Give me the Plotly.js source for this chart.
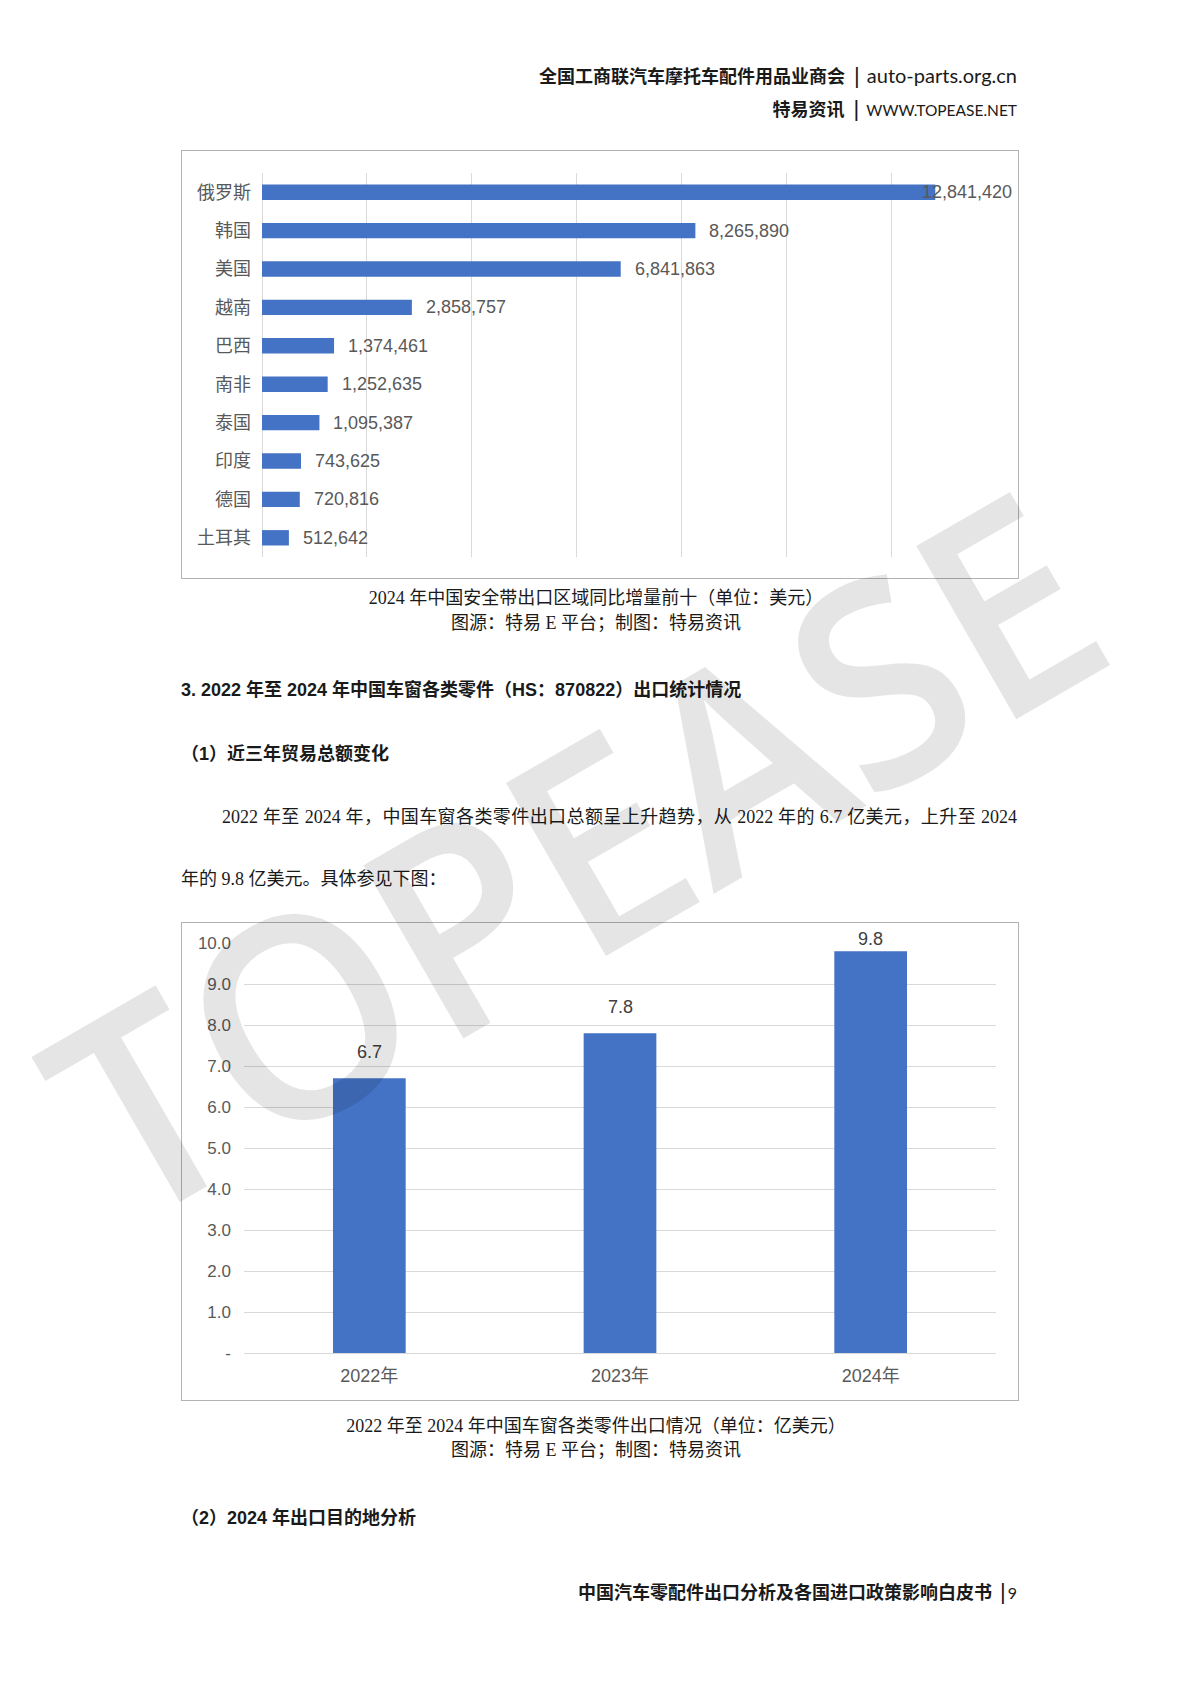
<!DOCTYPE html>
<html><head><meta charset="utf-8">
<script src="https://cdn.plot.ly/plotly-3.0.1.min.js"></script>
<style>
html,body{margin:0;padding:0;background:#fff;}
body{width:1200px;height:1698px;position:relative;overflow:hidden;}
.t{position:absolute;white-space:nowrap;line-height:24px;color:#1a1a1a;}
.serif{font-family:"Liberation Serif","Noto Sans CJK SC",serif;font-size:18px;}
.head{font-family:"Liberation Sans Narrow","Liberation Sans","Noto Sans CJK SC",sans-serif;font-weight:700;font-size:18px;}
.chartbox{position:absolute;left:181px;width:838px;box-sizing:border-box;border:1.5px solid #b3b3b3;background:#fff;}
.sep{font-family:"Liberation Sans",sans-serif;font-size:22px;margin:0 7px 0 9px;color:#1a1a1a;}
#wm{position:absolute;left:0;top:0;pointer-events:none;}
</style></head><body>

<div class="t" style="right:183px;top:63px;font-size:18px;">
  <span style="font-family:'Noto Sans CJK SC',sans-serif;font-weight:700;">全国工商联汽车摩托车配件用品业商会</span><span class="sep">|</span><span style="font-family:Lato,'Liberation Sans',sans-serif;font-size:20px;">auto-parts.org.cn</span>
</div>
<div class="t" style="right:183px;top:96px;font-size:18px;">
  <span style="font-family:'Noto Sans CJK SC',sans-serif;font-weight:700;">特易资讯</span><span class="sep">|</span><span style="font-family:Lato,'Liberation Sans',sans-serif;font-size:15.5px;">WWW.TOPEASE.NET</span>
</div>

<div class="chartbox" style="top:150px;height:429px;"><div id="c1" style="width:835px;height:426px;"></div></div>

<div class="t serif" style="left:181px;width:830px;text-align:center;top:586px;">2024 年中国安全带出口区域同比增量前十（单位：美元）</div>
<div class="t serif" style="left:181px;width:830px;text-align:center;top:611px;">图源：特易 E 平台；制图：特易资讯</div>

<div class="t head" style="left:181px;top:678px;">3. 2022 年至 2024 年中国车窗各类零件（HS：870822）出口统计情况</div>
<div class="t head" style="left:181px;top:742px;">（1）近三年贸易总额变化</div>

<div class="t serif" style="left:222px;width:795px;top:805px;white-space:normal;text-align:justify;text-align-last:justify;">2022 年至 2024 年，中国车窗各类零件出口总额呈上升趋势，从 2022 年的 6.7 亿美元，上升至 2024</div>
<div class="t serif" style="left:181px;top:867px;">年的 9.8 亿美元。具体参见下图：</div>

<div class="chartbox" style="top:922px;height:479px;"><div id="c2" style="width:835px;height:476px;"></div></div>

<div class="t serif" style="left:181px;width:830px;text-align:center;top:1414px;">2022 年至 2024 年中国车窗各类零件出口情况（单位：亿美元）</div>
<div class="t serif" style="left:181px;width:830px;text-align:center;top:1438px;">图源：特易 E 平台；制图：特易资讯</div>

<div class="t head" style="left:181px;top:1506px;">（2）2024 年出口目的地分析</div>

<div class="t" style="right:183px;top:1579px;font-size:18px;">
  <span style="font-family:'Noto Sans CJK SC',sans-serif;font-weight:700;">中国汽车零配件出口分析及各国进口政策影响白皮书</span><span class="sep" style="margin:0 2px 0 8px;">|</span><span style="font-family:Lato,'Liberation Sans',sans-serif;font-size:16px;">9</span>
</div>

<svg id="wm" width="1200" height="1698" xmlns="http://www.w3.org/2000/svg">
  <text x="128" y="1232" transform="rotate(-30 128 1232)" textLength="1150" lengthAdjust="spacingAndGlyphs"
    font-family="Open Sans, Liberation Sans, sans-serif" font-weight="600" font-size="280" fill="rgba(0,0,0,0.1)">TOPEASE</text>
</svg>

<script>
// ---- Chart 1 data: 2024 safety-belt export YoY increase, top 10 regions (USD)
const regions = ['俄罗斯','韩国','美国','越南','巴西','南非','泰国','印度','德国','土耳其'];
const increaseUSD = [12841420, 8265890, 6841863, 2858757, 1374461, 1252635, 1095387, 743625, 720816, 512642];

// ---- Chart 2 data: window parts export 2022-2024 (100M USD)
const years = ['2022年','2023年','2024年'];
const exportValue = [6.7, 7.8, 9.8];
const yTickVals = [0,1,2,3,4,5,6,7,8,9,10];
const yTickText = ['-','1.0','2.0','3.0','4.0','5.0','6.0','7.0','8.0','9.0','10.0'];

const BLUE = '#4472C4';
const GRID = '#d9d9d9';
const LABEL = '#595959';
const FONT = 'Liberation Sans, Noto Sans CJK SC, sans-serif';

// Chart 1
const x1Max = 14000000;
const ann1 = regions.map((r, i) => {
  const v = increaseUSD[i];
  const near = v / x1Max > 0.85;
  return near
    ? {x: 1.024, xref: 'paper', y: r, yref: 'y', xanchor: 'right', text: v.toLocaleString('en-US'),
       showarrow: false, font: {family: FONT, size: 18, color: LABEL}}
    : {x: v, xref: 'x', y: r, yref: 'y', xanchor: 'left', xshift: 12, text: v.toLocaleString('en-US'),
       showarrow: false, font: {family: FONT, size: 18, color: LABEL}};
});
Plotly.newPlot('c1', [{
  type: 'bar', orientation: 'h', y: regions, x: increaseUSD,
  marker: {color: BLUE}, hoverinfo: 'none'
}], {
  width: 835, height: 426,
  margin: {l: 80, r: 21, t: 22, b: 20},
  paper_bgcolor: 'rgba(0,0,0,0)', plot_bgcolor: 'rgba(0,0,0,0)',
  bargap: 0.6, showlegend: false,
  font: {family: FONT, size: 18, color: LABEL},
  xaxis: {range: [0, x1Max], dtick: 2000000, showticklabels: false, showgrid: true,
          gridcolor: GRID, gridwidth: 1, zeroline: true, zerolinecolor: GRID, zerolinewidth: 1,
          showline: false, ticks: ''},
  yaxis: {autorange: 'reversed', showgrid: false, zeroline: false, showline: false, ticks: '',
          ticklabelstandoff: 10, tickfont: {family: FONT, size: 18, color: LABEL}},
  annotations: ann1
}, {displayModeBar: false, staticPlot: true});

// Chart 2
const y2Max = 10;
const plotH2 = 476 - 20 - 46;
const ann2 = years.map((yr, i) => {
  const v = exportValue[i];
  const gap = (y2Max - v) * plotH2 / y2Max;
  const ys = Math.max(0, Math.min(14, gap - 8));
  return {x: yr, y: v, xref: 'x', yref: 'y', yanchor: 'bottom', yshift: ys, text: v.toFixed(1),
          showarrow: false, font: {family: FONT, size: 18, color: '#404040'}};
});
Plotly.newPlot('c2', [{
  type: 'bar', x: years, y: exportValue, marker: {color: BLUE}, hoverinfo: 'none'
}], {
  width: 835, height: 476,
  margin: {l: 62, r: 21, t: 20, b: 46},
  paper_bgcolor: 'rgba(0,0,0,0)', plot_bgcolor: 'rgba(0,0,0,0)',
  bargap: 0.71, showlegend: false,
  font: {family: FONT, size: 17, color: LABEL},
  xaxis: {showgrid: false, zeroline: false, showline: false, ticks: '', ticklabelstandoff: 10,
          tickfont: {family: FONT, size: 18, color: LABEL}},
  yaxis: {range: [0, y2Max], tickvals: yTickVals, ticktext: yTickText, showgrid: true,
          gridcolor: GRID, gridwidth: 1, zeroline: true, zerolinecolor: GRID, zerolinewidth: 1,
          showline: false, ticks: '', ticklabelstandoff: 12,
          tickfont: {family: FONT, size: 17, color: LABEL}},
  annotations: ann2
}, {displayModeBar: false, staticPlot: true});
</script>
</body></html>
